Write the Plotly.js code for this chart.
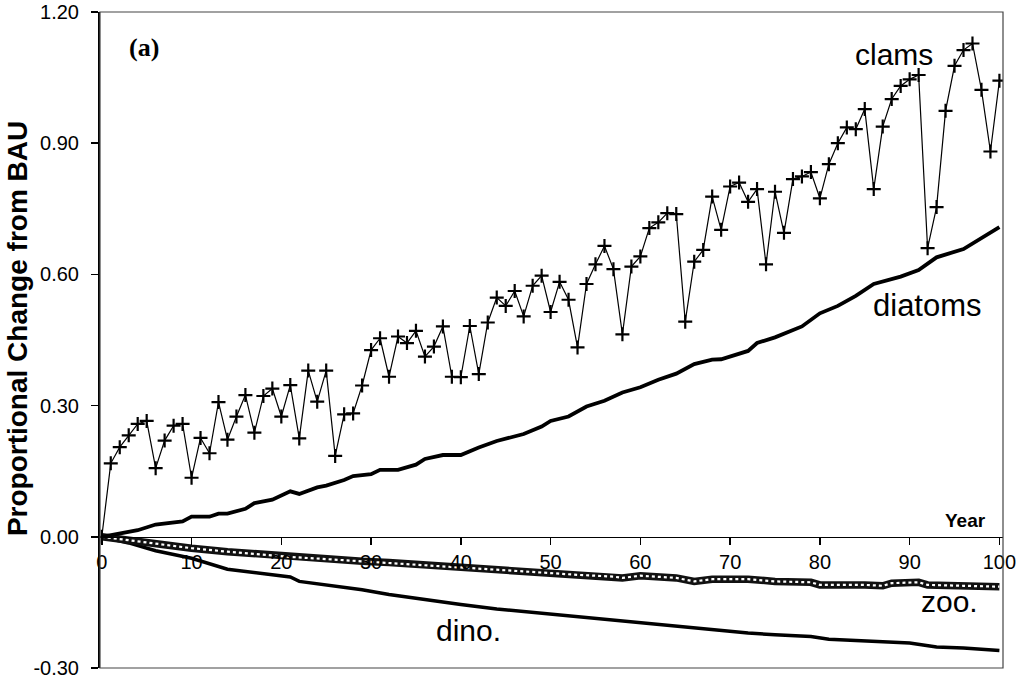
<!DOCTYPE html>
<html>
<head>
<meta charset="utf-8">
<script src="https://cdn.plot.ly/plotly-3.0.1.min.js"></script>
<style>
  html, body { margin: 0; padding: 0; background: #fff; }
  #chart { width: 1024px; height: 682px; }
</style>
</head>
<body>
<div id="chart"></div>
<script>
// clams: one value per year, 0..100
const clamYears = [];
for (let i = 0; i <= 100; i++) clamYears.push(i);
const clams = [
  0.000, 0.168, 0.205, 0.232, 0.258, 0.265, 0.157, 0.220, 0.254, 0.258,
  0.135, 0.226, 0.191, 0.308, 0.222, 0.275, 0.324, 0.238, 0.322, 0.339,
  0.275, 0.347, 0.225, 0.380, 0.309, 0.380, 0.185, 0.280, 0.282, 0.346,
  0.427, 0.454, 0.366, 0.458, 0.443, 0.471, 0.412, 0.435, 0.481, 0.366,
  0.365, 0.482, 0.372, 0.490, 0.547, 0.528, 0.562, 0.504, 0.574, 0.597,
  0.514, 0.583, 0.542, 0.433, 0.578, 0.623, 0.665, 0.612, 0.463, 0.618,
  0.641, 0.706, 0.719, 0.740, 0.738, 0.492, 0.629, 0.656, 0.778, 0.702,
  0.801, 0.810, 0.766, 0.795, 0.623, 0.789, 0.695, 0.818, 0.824, 0.834,
  0.774, 0.852, 0.900, 0.936, 0.932, 0.978, 0.795, 0.938, 1.001, 1.031,
  1.046, 1.056, 0.660, 0.754, 0.974, 1.077, 1.113, 1.128, 1.022, 0.881,
  1.043
];

const diatomYears = [0, 3, 4, 6, 9, 10, 12, 13, 14, 16, 17, 19, 21, 22, 24, 25, 27, 28, 30, 31,
  33, 35, 36, 38, 40, 42, 44, 47, 49, 50, 52, 54, 56, 58, 60, 62, 64, 66, 68, 69,
  72, 73, 75, 78, 80, 82, 84, 86, 89, 91, 93, 96, 98, 100];
const diatoms = [0.000, 0.011, 0.015, 0.028, 0.035, 0.046, 0.046, 0.053, 0.053, 0.064, 0.077, 0.085, 0.104, 0.098, 0.113, 0.117, 0.130, 0.139, 0.143, 0.153,
  0.153, 0.165, 0.178, 0.187, 0.187, 0.204, 0.219, 0.235, 0.252, 0.265, 0.275, 0.298, 0.311, 0.330, 0.342, 0.359, 0.373, 0.395, 0.405, 0.406,
  0.425, 0.443, 0.456, 0.481, 0.511, 0.528, 0.551, 0.578, 0.595, 0.610, 0.639, 0.658, 0.683, 0.708];

const zooYears = [0, 3, 6, 10, 14, 18, 21, 25, 29, 32, 36, 40, 44, 47, 50, 53, 57, 58, 60, 64,
  66, 68, 72, 75, 79, 80, 85, 87, 88, 91, 92, 96, 100];
const zoo = [0.000, -0.008, -0.017, -0.026, -0.034, -0.041, -0.046, -0.051, -0.056, -0.059, -0.064, -0.069, -0.075, -0.079, -0.083, -0.087, -0.091, -0.094, -0.089, -0.094,
  -0.102, -0.097, -0.097, -0.102, -0.104, -0.110, -0.110, -0.112, -0.106, -0.104, -0.110, -0.112, -0.114];

const dinoYears = [0, 3, 6, 10, 14, 18, 21, 22, 25, 29, 32, 36, 40, 44, 47, 50, 53, 57, 60, 64,
  68, 72, 75, 79, 81, 86, 90, 93, 96, 100];
const dino = [0.000, -0.014, -0.032, -0.049, -0.074, -0.084, -0.092, -0.102, -0.110, -0.121, -0.132, -0.144, -0.155, -0.165, -0.171, -0.176, -0.182, -0.190, -0.196, -0.205,
  -0.213, -0.220, -0.224, -0.228, -0.234, -0.239, -0.243, -0.252, -0.254, -0.260];

const yTickVals = [-0.3, 0, 0.3, 0.6, 0.9, 1.2];
const yTickText = ["-0.30", "0.00", "0.30", "0.60", "0.90", "1.20"];
const xTickVals = [0, 10, 20, 30, 40, 50, 60, 70, 80, 90, 100];

const sans = "Liberation Sans, Arial, sans-serif";

const traces = [
  {
    x: dinoYears, y: dino, mode: "lines",
    line: {color: "#000", width: 3.5}, hoverinfo: "skip"
  },
  // zoo: thick chain of small open circles
  {
    x: zooYears, y: zoo, mode: "lines",
    line: {color: "#111", width: 7.5}, hoverinfo: "skip"
  },
  {
    x: zooYears, y: zoo, mode: "lines",
    line: {color: "#fff", width: 2.2, dash: "dot"}, hoverinfo: "skip"
  },
  {
    x: diatomYears, y: diatoms, mode: "lines",
    line: {color: "#000", width: 3.8}, hoverinfo: "skip"
  },
  {
    x: clamYears, y: clams, mode: "lines+markers",
    line: {color: "#000", width: 1.2},
    marker: {symbol: "cross-thin", size: 10, color: "#000", line: {color: "#000", width: 2.2}},
    hoverinfo: "skip"
  }
];

const layout = {
  width: 1024, height: 682,
  margin: {l: 100, r: 21, t: 12, b: 14},
  paper_bgcolor: "#fff", plot_bgcolor: "#fff",
  showlegend: false,
  font: {family: sans, size: 20, color: "#000"},
  xaxis: {
    range: [-0.2, 100.4],
    anchor: "free", position: 0.2,
    showline: true, linecolor: "#000", linewidth: 1.5,
    ticks: "outside", ticklen: 7, tickwidth: 1.5, tickcolor: "#000",
    tickvals: xTickVals,
    tickfont: {family: sans, size: 20, color: "#000"},
    showgrid: false, zeroline: false
  },
  yaxis: {
    range: [-0.3, 1.2],
    showline: true, linecolor: "#000", linewidth: 2,
    ticks: "outside", ticklen: 7, tickwidth: 1.5, tickcolor: "#000",
    tickvals: yTickVals, ticktext: yTickText,
    tickfont: {family: sans, size: 20, color: "#000"},
    ticklabelstandoff: 8,
    showgrid: false, zeroline: false
  },
  shapes: [
    {type: "rect", xref: "paper", yref: "paper", x0: 0, x1: 1, y0: 0, y1: 1,
     line: {color: "#444", width: 1.2}}
  ],
  annotations: [
    {text: "Proportional Change from BAU", xref: "paper", yref: "paper",
     x: -0.092, y: 0.518, xanchor: "center", yanchor: "middle",
     textangle: -90, showarrow: false,
     font: {family: sans, size: 28, color: "#000", weight: "bold"}},
    {text: "<b>(a)</b>", xref: "x", yref: "y", x: 4.7, y: 1.118, showarrow: false,
     font: {family: "Liberation Serif, Times New Roman, serif", size: 26, color: "#000"}},
    {text: "clams", xref: "x", yref: "y", x: 88.3, y: 1.102, showarrow: false,
     font: {family: sans, size: 30, color: "#000"}},
    {text: "diatoms", xref: "x", yref: "y", x: 92.0, y: 0.528, showarrow: false,
     font: {family: sans, size: 31, color: "#000"}},
    {text: "zoo.", xref: "x", yref: "y", x: 94.4, y: -0.149, showarrow: false,
     font: {family: sans, size: 30, color: "#000"}},
    {text: "dino.", xref: "x", yref: "y", x: 40.9, y: -0.215, showarrow: false,
     font: {family: sans, size: 30, color: "#000"}},
    {text: "<b>Year</b>", xref: "x", yref: "y", x: 96.2, y: 0.038, showarrow: false,
     font: {family: sans, size: 19, color: "#000"}}
  ]
};

Plotly.newPlot("chart", traces, layout, {staticPlot: true, displayModeBar: false});
</script>
</body>
</html>
